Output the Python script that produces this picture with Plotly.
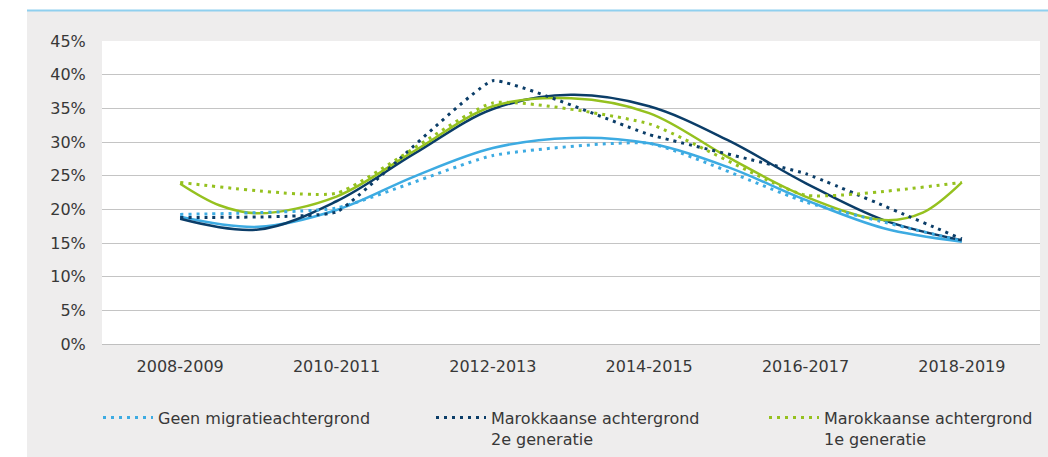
import plotly.graph_objects as go

# Categories (periods)
periods = ["2008-2009", "2010-2011", "2012-2013", "2014-2015", "2016-2017", "2018-2019"]
period_pos = [0, 1, 2, 3, 4, 5]

# Observed series (%)
geen = [19.25, 20.2, 28.0, 29.8, 21.1, 15.3]
marok_2e = [18.8, 19.6, 39.1, 31.1, 25.3, 15.6]
marok_1e = [24.0, 22.4, 35.8, 32.7, 22.1, 24.0]

# Trendlines at half-period steps
trend_pos = [0, 0.5, 1, 1.5, 2, 2.5, 3, 3.5, 4, 4.5, 5]
geen_trend = [18.9, 17.4, 19.9, 24.9, 29.1, 30.6, 29.8, 26.3, 21.4, 17.2, 15.2]
marok_2e_trend = [18.6, 17.0, 21.2, 28.3, 34.9, 37.0, 35.3, 30.3, 23.9, 18.4, 15.4]
trend_pos_1e = [0, 0.25, 0.5, 1, 1.5, 2, 2.5, 3, 3.5, 4, 4.5, 4.75, 5]
marok_1e_trend = [23.8, 20.6, 19.4, 21.9, 28.7, 35.3, 36.5, 34.3, 27.8, 21.9, 18.4, 19.5, 24.0]

names = ["Geen migratieachtergrond",
         "Marokkaanse achtergrond<br>2e generatie",
         "Marokkaanse achtergrond<br>1e generatie"]
colors = ["#3dabe2", "#0b3d68", "#95c11f"]
dot_smoothing = [0.45, 0.3, 0.45]

fig = go.Figure()

trends = [(trend_pos, geen_trend), (trend_pos, marok_2e_trend), (trend_pos_1e, marok_1e_trend)]
for (tx, ty), c in zip(trends, colors):
    fig.add_trace(go.Scatter(x=tx, y=ty, mode="lines", showlegend=False, hoverinfo="skip",
                             line=dict(color=c, width=2.5, shape="spline", smoothing=1.0)))

for vals, n, c, s in zip([geen, marok_2e, marok_1e], names, colors, dot_smoothing):
    fig.add_trace(go.Scatter(x=period_pos, y=vals, mode="lines", name=n,
                             line=dict(color=c, width=3, dash="3px,5px", shape="spline", smoothing=s)))

font_fam = "DejaVu Sans"
PW, PH = 938, 302.5
fig.update_layout(
    width=1048, height=457,
    margin=dict(l=102, r=8, t=41, b=113, autoexpand=False),
    paper_bgcolor="#eeeded",
    plot_bgcolor="#ffffff",
    font=dict(family=font_fam, size=16, color="#383838"),
    xaxis=dict(range=[-0.5, 5.5], tickvals=period_pos, ticktext=periods, showgrid=False,
               zeroline=False, showline=True, linecolor="#bfbfbf", linewidth=1,
               ticks="outside", ticklen=8, tickcolor="rgba(0,0,0,0)", fixedrange=True),
    yaxis=dict(range=[0, 45], dtick=5, ticksuffix="%", showgrid=True, gridcolor="#c4c4c4",
               gridwidth=1, zeroline=False, showline=False,
               ticks="outside", ticklen=12, tickcolor="rgba(0,0,0,0)", fixedrange=True),
    legend=dict(orientation="h", x=-4/PW, xanchor="left", y=-0.187, yanchor="top",
                itemwidth=50, entrywidth=268, valign="top",
                bgcolor="rgba(0,0,0,0)", font=dict(family=font_fam, size=16, color="#383838"),
                tracegroupgap=0),
    shapes=[
        dict(type="rect", xref="paper", yref="paper", layer="below",
             x0=-102/PW, x1=(27-102)/PW, y0=-113/PH - 0.05, y1=1 + 41/PH + 0.05,
             fillcolor="#ffffff", line=dict(width=0)),
        dict(type="rect", xref="paper", yref="paper", layer="below",
             x0=-102/PW, x1=1 + 8/PW + 0.05, y0=1 + 30/PH, y1=1 + 41/PH + 0.05,
             fillcolor="#ffffff", line=dict(width=0)),
        dict(type="line", xref="paper", yref="paper", layer="above",
             x0=(27-102)/PW, x1=1 + 8/PW + 0.05, y0=1 + 30.5/PH, y1=1 + 30.5/PH,
             line=dict(color="#8fd0ef", width=2)),
    ],
)

fig.write_html("out.html", config={"displayModeBar": False},
               post_script="document.body.style.margin='0';document.body.style.overflow='hidden';")
